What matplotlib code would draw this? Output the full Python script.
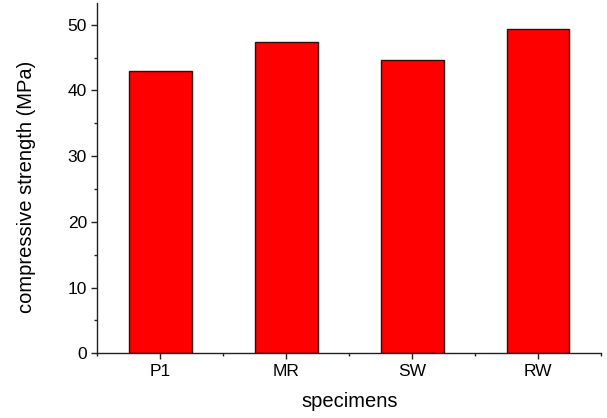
import matplotlib
matplotlib.use('Agg')
import matplotlib.pyplot as plt
from matplotlib.ticker import MultipleLocator

specimens = ['P1', 'MR', 'SW', 'RW']
strength = [42.9, 47.3, 44.6, 49.4]

plt.rcParams['font.family'] = ['Liberation Sans', 'DejaVu Sans']

fig = plt.figure(figsize=(6.07, 4.18), dpi=100)
ax = fig.add_axes([0.1606, 0.1548, 0.990 - 0.1606, 0.9928 - 0.1548])

x = range(len(specimens))
ax.bar(x, strength, width=0.5, color='#ff0000', edgecolor='#3a0a0a', linewidth=1.0)

ax.set_xlim(-0.5, 3.5)
ax.set_ylim(0, 53.3)
ax.set_xticks(list(x))
ax.set_xticklabels(specimens)
ax.xaxis.set_minor_locator(MultipleLocator(1, offset=0.5))
ax.yaxis.set_major_locator(MultipleLocator(10))
ax.yaxis.set_minor_locator(MultipleLocator(5))

for s in ['top', 'right']:
    ax.spines[s].set_visible(False)
for s in ['left', 'bottom']:
    ax.spines[s].set_linewidth(1.0)
    ax.spines[s].set_color('#222222')

ax.tick_params(which='major', direction='out', length=4.5, width=1, labelsize=12.5, pad=3, color='#222222')
ax.tick_params(which='minor', direction='out', length=2.5, width=1, color='#222222')

ax.set_xlabel('specimens', fontsize=14.5)
ax.set_ylabel('compressive strength (MPa)', fontsize=14.5)
ax.xaxis.set_label_coords(0.5, -0.110)
ax.yaxis.set_label_coords(-0.123, 0.476)

fig.savefig('out.png', dpi=100)
